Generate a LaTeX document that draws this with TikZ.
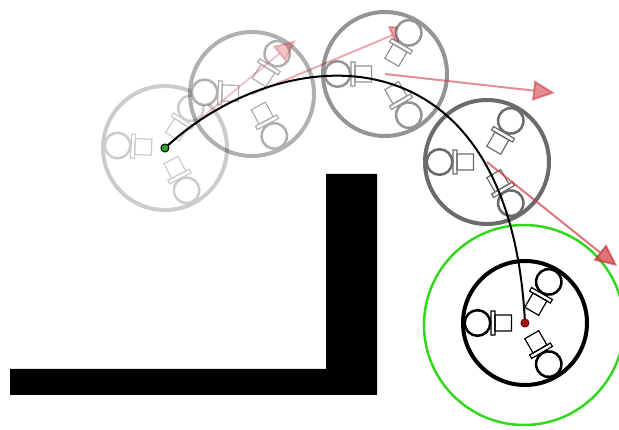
\documentclass[tikz,border=0pt]{standalone}
\usetikzlibrary{arrows.meta}

\definecolor{velred}{RGB}{205,50,60}
\definecolor{goalgreen}{RGB}{50,215,30}
\definecolor{startgreen}{RGB}{40,170,40}
\definecolor{endred}{RGB}{165,20,20}

\tikzset{
  wall/.style={fill=black},
  rimline/.style={line width=4},
  wheelline/.style={line width=2.5},
  motorline/.style={line width=1.2},
  pathline/.style={line width=2, black},
  velarrow/.style={line width=2, velred, -{Triangle[length=22,width=20]}},
  goalring/.style={line width=2.5, goalgreen},
}

% Three-wheeled omni robot: #1 centre, #2 heading, #3 stroke opacity
\newcommand{\omnirobot}[3]{%
  \begin{scope}[shift={(#1)}, rotate=#2]
    \foreach \wa in {180,60,-60}{
      \begin{scope}[rotate=\wa]
        \fill[white] (13.5,-8) rectangle (30,8);
        \fill[white] (30,-12) rectangle (34,12);
        \fill[white] (47.5,0) circle (12.8);
      \end{scope}
    }
    \begin{scope}[transparency group, opacity=#3]
      \draw[rimline] (0,0) circle (62);
      \foreach \wa in {180,60,-60}{
        \begin{scope}[rotate=\wa]
          \draw[motorline] (13.5,-8) rectangle (30,8);
          \draw[motorline] (30,-12) rectangle (34,12);
          \draw[wheelline] (47.5,0) circle (12.8);
        \end{scope}
      }
    \end{scope}
  \end{scope}}

\begin{document}
\begin{tikzpicture}[x=1pt,y=-1pt]
  \useasboundingbox (0,0) rectangle (619,430);

  % robot poses along the trajectory and velocity arrow tips
  \coordinate (c1) at (165,148);
  \coordinate (c2) at (252,94);
  \coordinate (c3) at (385,74);
  \coordinate (c4) at (487,162);
  \coordinate (c5) at (525,323);
  \coordinate (t1) at (296,40);
  \coordinate (t2) at (412,27);
  \coordinate (t3) at (555,93);
  \coordinate (t4) at (617,266);

  % L-shaped obstacle
  \fill[wall] (10,369) -- (326,369) -- (326,174) -- (377,174)
              -- (377,395) -- (10,395) -- cycle;

  % goal region
  \draw[goalring] (524,325) circle (100);

  % successive poses with their velocity vectors
  \omnirobot{c1}{-3}{0.2}
  \omnirobot{c2}{-2}{0.31}
  \draw[velarrow, opacity=0.28] (c1) -- (t1);
  \draw[velarrow, opacity=0.42] (c2) -- (t2);
  \omnirobot{c3}{0}{0.42}
  \draw[velarrow, opacity=0.55] (c3) -- (t3);
  \omnirobot{c4}{0}{0.58}
  \draw[velarrow, opacity=0.68] (c4) -- (t4);
  \omnirobot{c5}{0}{1}

  % planned trajectory
  \draw[pathline] (c1) .. controls (280,40) and (510,20) .. (c5);

  % start and end markers
  \filldraw[fill=startgreen, draw=black, line width=1] (c1) circle (4);
  \filldraw[fill=endred, draw=endred!60!black, line width=1] (c5) circle (4);
\end{tikzpicture}
\end{document}
